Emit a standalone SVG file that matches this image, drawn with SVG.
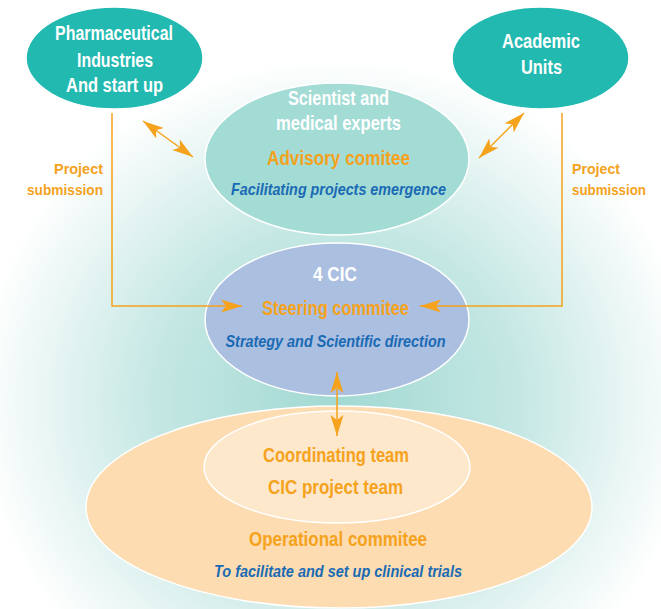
<svg xmlns="http://www.w3.org/2000/svg" width="661" height="609" viewBox="0 0 661 609">
  <defs>
    <radialGradient id="bg" gradientUnits="userSpaceOnUse" cx="337" cy="400" r="360" gradientTransform="translate(337 400) scale(1 0.95) translate(-337 -400)">
      <stop offset="0" stop-color="#a2d9d3"/>
      <stop offset="0.5" stop-color="#c4e7e3"/>
      <stop offset="1" stop-color="#ffffff"/>
    </radialGradient>
    <marker id="ah" viewBox="-22 -8 24 16" refX="0" refY="0" markerWidth="24" markerHeight="16" markerUnits="userSpaceOnUse" orient="auto-start-reverse">
      <path d="M0,0 L-21,-6.5 L-16,0 L-21,6.5 Z" fill="#f5a21d"/>
    </marker>
    <style>
      .t { font-family: "Liberation Sans", Arial, sans-serif; font-weight: bold; text-anchor: middle; }
      .w { fill: #ffffff; font-size: 20.5px; }
      .o { fill: #f5a21d; font-size: 20.5px; }
      .b { fill: #1a6ab4; font-size: 17px; font-style: italic; }
      .s { fill: #f5a21d; font-size: 15.5px; font-family: "Liberation Sans", Arial, sans-serif; font-weight: bold; }
      .el { stroke: #ffffff; stroke-width: 1.5; }
      .c { fill: none; stroke: #f5a21d; stroke-width: 1.5; }
    </style>
  </defs>
  <rect x="0" y="0" width="661" height="609" fill="#ffffff"/>
  <rect x="0" y="0" width="661" height="609" fill="url(#bg)"/>

  <g id="pharma">
    <ellipse class="el" cx="114.5" cy="58" rx="88.5" ry="51" fill="#22b9b1"/>
    <text class="t w" x="114" y="40" textLength="118" lengthAdjust="spacingAndGlyphs">Pharmaceutical</text>
    <text class="t w" x="115" y="67" textLength="76" lengthAdjust="spacingAndGlyphs">Industries</text>
    <text class="t w" x="114.5" y="92" textLength="97" lengthAdjust="spacingAndGlyphs">And start up</text>
  </g>

  <g id="academic">
    <ellipse class="el" cx="540.5" cy="58" rx="88.5" ry="51" fill="#22b9b1"/>
    <text class="t w" x="541" y="48" textLength="78" lengthAdjust="spacingAndGlyphs">Academic</text>
    <text class="t w" x="541.5" y="74" textLength="41" lengthAdjust="spacingAndGlyphs">Units</text>
  </g>

  <g id="advisory">
    <ellipse class="el" cx="337" cy="159" rx="132" ry="76" fill="#a3dbd5"/>
    <text class="t w" x="338.5" y="105" textLength="101" lengthAdjust="spacingAndGlyphs">Scientist and</text>
    <text class="t w" x="338.5" y="130" textLength="125" lengthAdjust="spacingAndGlyphs">medical experts</text>
    <text class="t o" x="338.5" y="165" textLength="143" lengthAdjust="spacingAndGlyphs">Advisory comitee</text>
    <text class="t b" x="338.5" y="195" textLength="215" lengthAdjust="spacingAndGlyphs">Facilitating projects emergence</text>
  </g>

  <g id="steering">
    <ellipse class="el" cx="337" cy="319.5" rx="132" ry="76.5" fill="#abbfe1"/>
    <text class="t w" x="335" y="281" textLength="44" lengthAdjust="spacingAndGlyphs">4 CIC</text>
    <text class="t o" x="335.5" y="315" textLength="147" lengthAdjust="spacingAndGlyphs">Steering commitee</text>
    <text class="t b" x="335.5" y="347" textLength="220" lengthAdjust="spacingAndGlyphs">Strategy and Scientific direction</text>
  </g>

  <g id="operational">
    <ellipse class="el" cx="339" cy="507" rx="253" ry="101" fill="#fcdcb0"/>
    <text class="t o" x="338" y="546" textLength="178" lengthAdjust="spacingAndGlyphs">Operational commitee</text>
    <text class="t b" x="338" y="577" textLength="248" lengthAdjust="spacingAndGlyphs">To facilitate and set up clinical trials</text>
  </g>

  <g id="coordinating">
    <ellipse class="el" cx="337" cy="467" rx="133" ry="56" fill="#fde8cc"/>
    <text class="t o" x="336" y="462" textLength="146" lengthAdjust="spacingAndGlyphs">Coordinating team</text>
    <text class="t o" x="335.5" y="494" textLength="135" lengthAdjust="spacingAndGlyphs">CIC project team</text>
  </g>

  <g id="labels">
    <text class="s" x="103" y="174" text-anchor="end" textLength="49" lengthAdjust="spacingAndGlyphs">Project</text>
    <text class="s" x="103" y="195" text-anchor="end" textLength="76" lengthAdjust="spacingAndGlyphs">submission</text>
    <text class="s" x="572" y="174" textLength="48" lengthAdjust="spacingAndGlyphs">Project</text>
    <text class="s" x="572" y="195" textLength="74" lengthAdjust="spacingAndGlyphs">submission</text>
  </g>

  <g id="connectors">
    <path class="c" d="M112,113 V306 H242" marker-end="url(#ah)"/>
    <path class="c" d="M562,113 V306 H420" marker-end="url(#ah)"/>
    <line class="c" x1="143" y1="121" x2="193" y2="157" marker-start="url(#ah)" marker-end="url(#ah)"/>
    <line class="c" x1="524" y1="113" x2="479" y2="158" marker-start="url(#ah)" marker-end="url(#ah)"/>
    <line class="c" x1="337" y1="372" x2="337" y2="436" marker-start="url(#ah)" marker-end="url(#ah)"/>
  </g>
</svg>
